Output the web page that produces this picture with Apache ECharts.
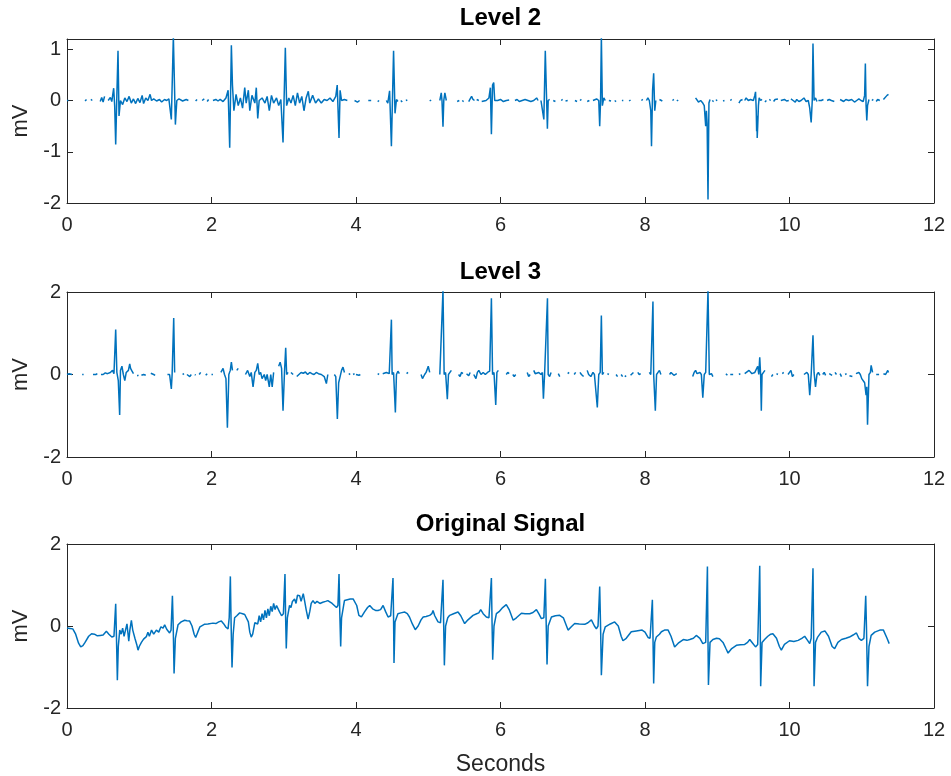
<!DOCTYPE html>
<html><head><meta charset="utf-8">
<script src="https://cdn.jsdelivr.net/npm/echarts@6/dist/echarts.min.js"></script>
<style>html,body{margin:0;padding:0;background:#fff}#c{width:951px;height:776px}</style>
</head><body><div id="c"></div>
<script>
// Level 2 detail coefficients reconstruction: [seconds, mV], null = gap
const level2 = [
[0.00,0.0],[0.02,0.0],[0.04,null],
[0.25,-0.01],[0.27,0.02],[0.29,null],[0.33,0.02],[0.35,0.0],[0.37,null],
[0.46,-0.02],[0.48,0.06],[0.50,-0.03],[0.52,0.08],[0.54,null],
[0.57,0.0],[0.60,0.06],[0.62,-0.02],[0.646,0.24],[0.66,-0.1],[0.674,-0.86],[0.69,0.1],[0.706,0.97],[0.72,-0.3],[0.74,0.0],[0.77,-0.08],[0.80,0.05],[0.83,-0.02],[0.86,0.08],[0.89,-0.05],[0.92,0.03],[0.95,-0.06],[0.98,0.04],[1.01,-0.04],[1.04,0.1],[1.06,-0.06],[1.09,0.05],[1.12,0.0],[1.15,0.12],[1.17,0.0],[1.2,0.03],[1.24,-0.01],[1.28,0.02],[1.31,-0.03],[1.35,0.02],[1.38,0.0],[1.41,0.03],[1.444,-0.37],[1.472,1.25],[1.5,-0.47],[1.52,0.0],[1.55,0.03],[1.6,-0.01],[1.65,0.02],[1.68,0.0],[1.7,null],
[1.78,-0.01],[1.8,0.02],[1.82,null],[1.87,0.0],[1.9,0.03],[1.92,null],[1.94,-0.02],[1.96,0.02],[1.98,null],
[2.02,0.0],[2.06,0.02],[2.09,-0.01],[2.12,0.02],[2.16,-0.02],[2.2,0.05],[2.23,0.2],[2.252,-0.92],[2.275,1.08],[2.29,0.3],[2.31,-0.2],[2.34,0.12],[2.37,-0.1],[2.4,0.05],[2.43,-0.15],[2.46,0.25],[2.48,-0.05],[2.51,0.2],[2.53,-0.2],[2.56,0.1],[2.6,-0.05],[2.62,0.25],[2.64,-0.35],[2.66,0.0],[2.7,0.05],[2.74,-0.05],[2.77,0.08],[2.8,-0.2],[2.83,0.1],[2.86,-0.05],[2.9,0.05],[2.93,-0.1],[2.96,0.02],[2.99,-0.82],[3.022,1.03],[3.04,-0.1],[3.07,0.05],[3.1,-0.05],[3.13,0.1],[3.16,-0.1],[3.19,0.15],[3.22,-0.05],[3.25,0.08],[3.28,-0.2],[3.31,0.05],[3.34,0.18],[3.36,-0.05],[3.4,0.1],[3.44,-0.05],[3.48,0.03],[3.52,-0.05],[3.56,0.02],[3.6,0.0],[3.64,0.05],[3.68,-0.02],[3.72,0.08],[3.74,0.3],[3.765,-0.73],[3.78,0.2],[3.8,0.0],[3.84,0.02],[3.88,0.0],[3.9,null],
[3.98,0.0],[4.0,0.02],[4.02,-0.03],[4.05,0.0],[4.07,null],[4.17,0.0],[4.19,-0.03],[4.21,0.0],[4.23,null],[4.3,-0.02],[4.32,0.0],[4.34,null],
[4.42,0.0],[4.44,-0.05],[4.465,0.19],[4.49,-0.89],[4.52,0.97],[4.54,-0.25],[4.56,0.02],[4.58,-0.02],[4.6,null],[4.62,0.0],[4.64,-0.03],[4.66,null],[4.69,0.0],[4.71,0.01],[4.73,null],
[5.02,-0.01],[5.04,0.01],[5.06,null],[5.16,0.0],[5.18,0.15],[5.19,0.0],[5.204,-0.51],[5.215,0.0],[5.23,0.15],[5.25,0.0],[5.27,null],
[5.4,-0.02],[5.43,0.0],[5.45,null],[5.47,0.0],[5.49,-0.02],[5.51,null],[5.56,-0.02],[5.58,0.03],[5.6,0.08],[5.62,0.02],[5.64,0.0],[5.65,null],[5.67,0.02],[5.7,0.0],[5.72,null],[5.74,-0.02],[5.76,0.0],[5.8,0.0],[5.84,0.05],[5.86,0.25],[5.874,-0.66],[5.89,0.3],[5.906,0.35],[5.92,0.0],[5.94,0.02],[5.96,0.0],[6.0,0.02],[6.04,-0.02],[6.08,0.0],[6.12,0.01],[6.14,null],
[6.2,0.0],[6.23,0.02],[6.26,-0.02],[6.3,0.0],[6.34,0.02],[6.38,0.0],[6.42,-0.02],[6.46,0.0],[6.5,0.05],[6.52,0.0],[6.54,null],
[6.56,0.0],[6.58,0.02],[6.6,-0.37],[6.62,0.97],[6.649,-0.55],[6.66,0.0],[6.68,0.02],[6.7,null],
[6.73,0.0],[6.76,-0.02],[6.78,null],[6.84,0.0],[6.86,0.02],[6.88,null],[6.9,-0.01],[6.93,0.0],[6.95,null],[7.03,0.0],[7.06,-0.02],[7.08,null],[7.1,0.0],[7.12,0.02],[7.14,null],[7.2,-0.02],[7.23,0.0],[7.25,null],
[7.28,0.0],[7.3,-0.02],[7.33,0.03],[7.36,0.0],[7.373,-0.5],[7.385,0.0],[7.396,1.25],[7.41,-0.1],[7.43,0.05],[7.45,0.0],[7.47,null],
[7.5,0.0],[7.53,-0.01],[7.55,null],[7.58,0.0],[7.6,-0.02],[7.62,null],[7.68,0.0],[7.7,0.0],[7.72,null],[7.78,-0.01],[7.8,0.01],[7.82,null],[7.95,0.0],[7.97,0.02],[7.99,null],
[8.02,0.0],[8.04,0.05],[8.06,0.0],[8.08,-0.2],[8.09,-0.89],[8.105,0.2],[8.12,0.53],[8.135,-0.2],[8.15,0.0],[8.17,null],
[8.2,0.02],[8.22,0.0],[8.24,-0.01],[8.26,null],[8.38,0.0],[8.4,0.02],[8.42,null],[8.44,-0.01],[8.46,0.01],[8.48,null],
[8.7,0.05],[8.72,0.02],[8.74,-0.03],[8.77,0.0],[8.8,-0.05],[8.82,-0.1],[8.84,-0.5],[8.85,-0.2],[8.86,-0.45],[8.872,-1.93],[8.885,-0.05],[8.9,0.02],[8.91,null],[8.93,0.0],[8.95,-0.02],[8.96,null],[8.98,0.0],[9.0,0.01],[9.02,null],
[9.08,-0.01],[9.1,0.0],[9.12,null],[9.18,0.0],[9.2,0.02],[9.22,null],[9.3,-0.05],[9.32,0.0],[9.35,0.02],[9.36,null],
[9.38,0.0],[9.4,0.05],[9.43,0.0],[9.46,0.02],[9.5,0.0],[9.52,0.1],[9.53,0.17],[9.54,-0.2],[9.545,-0.6],[9.55,-0.3],[9.553,-0.73],[9.56,-0.5],[9.57,-0.1],[9.58,0.05],[9.6,0.0],[9.62,0.02],[9.64,null],
[9.66,-0.03],[9.68,0.0],[9.7,null],[9.72,0.02],[9.74,0.0],[9.76,null],[9.78,-0.02],[9.8,0.02],[9.82,0.0],[9.84,0.03],[9.86,null],[9.88,0.0],[9.9,-0.03],[9.93,0.02],[9.96,-0.01],[9.99,0.0],[10.0,null],
[10.02,0.03],[10.05,0.0],[10.08,-0.03],[10.1,0.02],[10.13,-0.02],[10.16,0.0],[10.2,0.05],[10.23,-0.02],[10.26,0.0],[10.28,-0.15],[10.3,-0.43],[10.315,0.0],[10.325,1.11],[10.34,0.0],[10.36,0.05],[10.38,-0.02],[10.39,null],
[10.4,0.0],[10.42,0.03],[10.44,0.0],[10.47,0.02],[10.49,null],[10.52,0.0],[10.55,0.02],[10.58,0.0],[10.62,-0.02],[10.65,null],
[10.7,0.02],[10.72,0.0],[10.75,-0.02],[10.78,0.02],[10.82,0.0],[10.86,0.02],[10.9,-0.03],[10.93,0.0],[10.96,0.03],[10.99,0.0],[11.02,-0.02],[11.04,0.1],[11.05,0.72],[11.06,-0.1],[11.07,-0.39],[11.08,-0.1],[11.1,0.02],[11.12,null],
[11.14,0.0],[11.16,0.02],[11.18,null],[11.2,-0.02],[11.22,0.02],[11.25,0.0],[11.27,null],[11.3,0.02],[11.32,0.05],[11.35,0.1],[11.37,0.12]
];

const level3 = [
[0.0,0.0],[0.03,0.02],[0.05,-0.02],[0.07,0.0],[0.09,null],
[0.21,0.0],[0.23,0.0],[0.25,null],
[0.36,0.0],[0.38,-0.03],[0.4,0.0],[0.42,0.02],[0.44,null],
[0.47,0.0],[0.5,0.0],[0.53,0.04],[0.56,0.02],[0.6,0.05],[0.63,0.1],[0.65,0.02],[0.674,1.09],[0.69,0.05],[0.71,-0.15],[0.729,-0.98],[0.74,0.1],[0.76,0.2],[0.78,0.0],[0.8,-0.15],[0.82,0.05],[0.85,0.1],[0.868,0.26],[0.88,0.15],[0.9,0.08],[0.92,0.02],[0.94,null],
[0.97,-0.03],[0.99,-0.02],[1.01,null],[1.03,-0.02],[1.06,0.0],[1.09,-0.02],[1.11,null],[1.16,0.03],[1.18,0.05],[1.2,0.0],[1.22,-0.02],[1.24,null],
[1.39,0.0],[1.42,0.0],[1.444,-0.35],[1.455,0.0],[1.477,1.37],[1.49,0.05],[1.51,null],
[1.6,0.0],[1.62,0.02],[1.64,null],[1.66,0.0],[1.68,0.02],[1.7,-0.05],[1.72,0.0],[1.74,null],[1.77,0.0],[1.78,-0.02],[1.8,null],[1.83,0.0],[1.85,0.05],[1.87,null],
[1.92,-0.02],[1.94,0.02],[1.96,null],[2.0,0.0],[2.02,0.0],[2.04,null],
[2.13,0.05],[2.16,0.15],[2.18,0.0],[2.2,-0.1],[2.22,-1.29],[2.24,0.0],[2.26,0.1],[2.275,0.3],[2.29,0.1],[2.31,null],[2.35,0.1],[2.37,0.15],[2.39,null],
[2.47,0.0],[2.5,0.1],[2.53,-0.05],[2.55,0.05],[2.575,-0.3],[2.6,0.05],[2.62,0.1],[2.64,0.27],[2.66,0.0],[2.68,0.05],[2.7,-0.1],[2.73,0.0],[2.75,-0.15],[2.77,0.0],[2.8,-0.3],[2.82,0.0],[2.84,-0.3],[2.86,0.05],[2.88,null],
[2.93,0.2],[2.95,0.3],[2.97,0.15],[2.99,-0.88],[3.01,0.05],[3.027,0.65],[3.04,0.0],[3.06,0.05],[3.08,null],[3.1,0.05],[3.13,0.0],[3.15,null],
[3.18,-0.05],[3.21,0.0],[3.24,0.05],[3.27,0.03],[3.3,0.06],[3.33,0.0],[3.36,0.05],[3.39,0.02],[3.42,0.0],[3.45,0.05],[3.48,0.02],[3.52,0.0],[3.56,-0.05],[3.59,-0.22],[3.61,0.0],[3.63,null],
[3.7,0.0],[3.72,-0.05],[3.742,-1.08],[3.76,-0.2],[3.78,-0.05],[3.8,0.1],[3.82,0.18],[3.84,0.05],[3.86,null],[3.9,0.0],[3.92,0.02],[3.94,null],[3.96,0.0],[3.98,0.02],[3.99,null],
[4.0,0.0],[4.02,0.02],[4.04,-0.02],[4.06,0.0],[4.08,null],
[4.3,0.02],[4.32,0.0],[4.34,null],[4.37,0.02],[4.39,0.0],[4.42,0.05],[4.44,0.02],[4.46,0.02],[4.49,1.33],[4.5,0.0],[4.52,0.05],[4.545,-0.92],[4.56,0.0],[4.58,0.08],[4.6,0.02],[4.62,null],
[4.7,0.02],[4.72,0.05],[4.74,null],
[4.9,0.0],[4.92,-0.1],[4.95,0.0],[4.97,0.05],[5.0,0.2],[5.02,0.05],[5.04,null],
[5.16,0.0],[5.18,0.0],[5.204,2.05],[5.22,0.0],[5.24,0.05],[5.264,-0.6],[5.28,0.0],[5.3,0.05],[5.32,0.1],[5.34,null],
[5.42,0.0],[5.44,-0.05],[5.46,0.05],[5.48,0.02],[5.5,null],[5.53,0.02],[5.56,-0.03],[5.58,0.05],[5.6,null],
[5.63,0.0],[5.66,-0.1],[5.68,0.05],[5.7,0.1],[5.73,0.0],[5.76,0.05],[5.79,0.0],[5.82,0.05],[5.85,0.08],[5.874,1.85],[5.89,0.0],[5.91,0.05],[5.934,-0.74],[5.95,0.05],[5.97,0.1],[5.99,null],
[6.08,0.0],[6.1,0.05],[6.12,0.02],[6.14,null],[6.17,0.0],[6.19,-0.05],[6.21,0.0],[6.23,null],
[6.37,0.05],[6.39,-0.05],[6.41,0.0],[6.43,null],[6.46,0.1],[6.48,0.02],[6.5,0.0],[6.53,0.05],[6.56,0.0],[6.58,0.05],[6.594,-0.59],[6.61,0.0],[6.65,1.85],[6.66,0.0],[6.68,-0.05],[6.7,0.05],[6.72,null],
[6.8,0.02],[6.82,-0.05],[6.84,null],
[6.93,0.02],[6.95,0.05],[6.97,null],[7.02,0.0],[7.04,0.05],[7.06,null],[7.1,0.05],[7.12,0.0],[7.15,-0.05],[7.17,null],[7.2,0.1],[7.22,0.0],[7.25,-0.05],[7.28,0.05],[7.3,0.0],[7.34,-0.8],[7.36,0.0],[7.38,0.05],[7.396,1.43],[7.41,0.0],[7.43,0.05],[7.45,null],[7.48,0.02],[7.5,0.0],[7.52,null],
[7.6,0.0],[7.62,-0.05],[7.64,null],[7.67,0.0],[7.69,-0.05],[7.71,null],[7.72,-0.03],[7.74,-0.05],[7.76,null],[7.8,-0.02],[7.82,0.0],[7.84,0.05],[7.86,null],[7.9,0.05],[7.92,0.0],[7.94,0.02],[7.96,null],
[8.06,0.05],[8.08,0.0],[8.11,1.77],[8.12,0.0],[8.143,-0.88],[8.16,0.0],[8.18,0.05],[8.2,0.1],[8.22,0.0],[8.24,null],
[8.34,0.0],[8.36,0.05],[8.38,0.02],[8.4,-0.02],[8.42,0.0],[8.44,0.02],[8.46,null],
[8.66,-0.05],[8.68,0.05],[8.7,0.1],[8.72,0.02],[8.74,0.0],[8.76,0.05],[8.78,0.0],[8.8,-0.56],[8.82,0.0],[8.84,0.05],[8.872,2.05],[8.89,0.0],[8.9,-0.02],[8.92,0.02],[8.94,-0.05],[8.96,null],
[9.12,0.02],[9.14,-0.02],[9.16,null],[9.18,0.0],[9.2,0.02],[9.22,0.0],[9.24,null],
[9.3,0.0],[9.32,0.02],[9.34,null],[9.38,0.02],[9.4,0.05],[9.44,0.1],[9.48,0.02],[9.52,0.05],[9.56,0.2],[9.575,0.0],[9.588,0.42],[9.6,0.0],[9.61,-0.88],[9.62,0.0],[9.64,0.05],[9.66,0.1],[9.68,null],
[9.75,-0.05],[9.77,0.0],[9.79,null],[9.82,0.02],[9.84,0.0],[9.86,null],[9.9,0.02],[9.92,0.05],[9.94,null],[9.98,0.0],[10.0,0.05],[10.02,0.1],[10.04,-0.05],[10.06,0.0],[10.08,null],
[10.2,0.0],[10.24,0.05],[10.26,0.0],[10.28,-0.5],[10.3,0.0],[10.325,0.95],[10.34,0.05],[10.36,-0.3],[10.38,0.0],[10.4,0.05],[10.42,-0.02],[10.44,null],
[10.46,0.0],[10.48,0.05],[10.5,-0.02],[10.52,null],[10.55,0.02],[10.57,0.0],[10.59,-0.02],[10.61,null],[10.63,0.05],[10.65,0.0],[10.67,null],[10.7,0.02],[10.72,-0.05],[10.74,null],[10.77,0.0],[10.79,0.02],[10.81,null],[10.83,-0.03],[10.85,0.0],[10.87,-0.05],[10.89,null],
[10.92,0.02],[10.94,0.0],[10.96,0.05],[10.98,0.0],[11.0,-0.1],[11.04,-0.2],[11.06,-0.5],[11.07,-0.3],[11.08,-1.22],[11.1,0.0],[11.12,0.05],[11.13,0.22],[11.15,0.05],[11.17,null],
[11.2,0.0],[11.22,-0.02],[11.24,0.0],[11.26,null],[11.3,0.02],[11.33,0.0],[11.36,0.1],[11.37,0.05]
];

const original = [
[0.0,-0.05],[0.04,-0.06],[0.08,-0.07],[0.12,-0.2],[0.16,-0.42],[0.19,-0.51],[0.22,-0.48],[0.25,-0.4],[0.3,-0.25],[0.34,-0.19],[0.38,-0.2],[0.42,-0.24],[0.46,-0.23],[0.5,-0.22],[0.545,-0.13],[0.58,-0.2],[0.62,-0.27],[0.65,-0.25],[0.674,0.54],[0.685,-0.3],[0.697,-1.32],[0.71,-0.5],[0.73,-0.1],[0.75,-0.2],[0.77,-0.05],[0.79,-0.25],[0.81,-0.1],[0.83,0.05],[0.845,-0.2],[0.855,-0.37],[0.87,-0.1],[0.891,0.14],[0.91,-0.1],[0.94,-0.3],[0.965,-0.45],[0.983,-0.59],[1.0,-0.5],[1.03,-0.4],[1.06,-0.32],[1.098,-0.26],[1.12,-0.15],[1.14,-0.25],[1.17,-0.1],[1.2,-0.2],[1.237,-0.1],[1.27,-0.15],[1.3,-0.02],[1.33,-0.05],[1.352,0.03],[1.38,-0.08],[1.42,-0.17],[1.44,-0.1],[1.459,0.74],[1.47,0.0],[1.482,-1.16],[1.5,-0.3],[1.537,0.03],[1.58,0.1],[1.629,0.14],[1.66,0.13],[1.698,0.12],[1.73,0.0],[1.76,-0.2],[1.781,-0.28],[1.81,-0.15],[1.84,-0.02],[1.86,0.02],[1.9,0.04],[1.95,0.05],[2.02,0.07],[2.06,0.06],[2.1,0.1],[2.136,0.12],[2.17,0.05],[2.2,-0.03],[2.229,-0.07],[2.245,0.2],[2.261,1.21],[2.272,0.0],[2.284,-1.01],[2.3,-0.2],[2.32,0.2],[2.35,0.25],[2.39,0.32],[2.43,0.3],[2.46,0.28],[2.48,0.24],[2.51,0.1],[2.53,-0.15],[2.55,-0.27],[2.57,-0.2],[2.6,0.08],[2.62,0.12],[2.64,0.05],[2.66,0.25],[2.68,0.1],[2.7,0.3],[2.72,0.15],[2.74,0.38],[2.76,0.2],[2.78,0.42],[2.8,0.25],[2.82,0.48],[2.84,0.35],[2.86,0.55],[2.88,0.4],[2.9,0.5],[2.92,0.54],[2.94,0.35],[2.97,0.25],[2.995,0.3],[3.017,1.27],[3.026,0.2],[3.035,-0.55],[3.05,0.2],[3.08,0.5],[3.1,0.45],[3.12,0.6],[3.15,0.66],[3.17,0.55],[3.19,0.75],[3.22,0.74],[3.24,0.6],[3.27,0.79],[3.29,0.6],[3.31,0.4],[3.337,0.17],[3.36,0.35],[3.38,0.55],[3.405,0.62],[3.43,0.55],[3.46,0.6],[3.5,0.55],[3.54,0.58],[3.58,0.6],[3.61,0.62],[3.636,0.66],[3.67,0.55],[3.7,0.5],[3.73,0.45],[3.75,0.5],[3.765,1.27],[3.776,0.3],[3.788,-0.5],[3.8,0.2],[3.84,0.62],[3.88,0.64],[3.92,0.66],[3.96,0.66],[3.98,0.66],[4.01,0.5],[4.04,0.26],[4.075,0.22],[4.12,0.35],[4.16,0.45],[4.19,0.5],[4.23,0.42],[4.27,0.38],[4.305,0.38],[4.34,0.4],[4.375,0.5],[4.41,0.35],[4.444,0.22],[4.48,0.25],[4.512,1.17],[4.52,0.2],[4.526,-0.9],[4.54,0.1],[4.58,0.3],[4.62,0.32],[4.675,0.34],[4.71,0.3],[4.74,0.22],[4.78,0.05],[4.82,-0.09],[4.86,0.0],[4.9,0.15],[4.93,0.22],[4.97,0.23],[5.02,0.26],[5.05,0.3],[5.066,0.38],[5.09,0.25],[5.135,0.1],[5.17,0.08],[5.204,1.13],[5.213,0.1],[5.223,-0.96],[5.24,0.0],[5.27,0.2],[5.297,0.26],[5.35,0.3],[5.412,0.34],[5.45,0.25],[5.504,0.06],[5.55,0.15],[5.62,0.26],[5.67,0.3],[5.7,0.32],[5.726,0.4],[5.76,0.3],[5.804,0.22],[5.84,0.2],[5.874,1.17],[5.883,0.1],[5.892,-0.82],[5.91,0.0],[5.943,0.3],[5.98,0.35],[6.03,0.45],[6.08,0.52],[6.12,0.4],[6.175,0.14],[6.22,0.2],[6.29,0.31],[6.34,0.3],[6.405,0.3],[6.45,0.33],[6.497,0.4],[6.53,0.3],[6.566,0.18],[6.6,0.2],[6.621,1.15],[6.632,0.1],[6.644,-0.94],[6.66,0.0],[6.705,0.22],[6.76,0.25],[6.82,0.26],[6.87,0.2],[6.935,-0.1],[6.98,-0.02],[7.027,0.06],[7.09,0.05],[7.166,0.04],[7.21,0.08],[7.258,0.15],[7.3,0.0],[7.327,-0.07],[7.35,0.0],[7.373,0.96],[7.385,0.0],[7.396,-1.2],[7.42,-0.2],[7.45,-0.02],[7.52,0.05],[7.58,0.1],[7.63,0.0],[7.67,-0.25],[7.695,-0.36],[7.74,-0.3],[7.81,-0.14],[7.88,-0.12],[7.96,-0.1],[8.0,-0.15],[8.042,-0.28],[8.07,-0.3],[8.102,0.64],[8.11,-0.2],[8.12,-1.4],[8.135,-0.4],[8.157,-0.27],[8.2,-0.2],[8.227,-0.14],[8.27,-0.1],[8.32,-0.1],[8.36,-0.25],[8.41,-0.51],[8.46,-0.42],[8.53,-0.33],[8.58,-0.35],[8.62,-0.33],[8.67,-0.3],[8.71,-0.23],[8.76,-0.3],[8.8,-0.43],[8.84,-0.4],[8.864,1.45],[8.87,0.0],[8.878,-1.44],[8.9,-0.4],[8.94,-0.33],[8.99,-0.3],[9.03,-0.31],[9.08,-0.4],[9.12,-0.55],[9.15,-0.66],[9.2,-0.55],[9.265,-0.47],[9.32,-0.46],[9.38,-0.45],[9.42,-0.4],[9.45,-0.33],[9.49,-0.42],[9.53,-0.51],[9.56,-0.45],[9.588,1.47],[9.595,0.0],[9.601,-1.47],[9.62,-0.4],[9.655,-0.33],[9.7,-0.25],[9.74,-0.2],[9.77,-0.19],[9.82,-0.3],[9.86,-0.5],[9.887,-0.59],[9.93,-0.45],[10.0,-0.36],[10.06,-0.38],[10.12,-0.35],[10.17,-0.3],[10.21,-0.25],[10.25,-0.35],[10.28,-0.43],[10.3,-0.3],[10.325,1.41],[10.333,0.0],[10.34,-1.47],[10.36,-0.4],[10.39,-0.27],[10.44,-0.15],[10.49,-0.12],[10.54,-0.25],[10.59,-0.5],[10.625,-0.55],[10.67,-0.4],[10.72,-0.33],[10.78,-0.3],[10.83,-0.27],[10.88,-0.22],[10.926,-0.17],[10.96,-0.3],[10.995,-0.35],[11.03,-0.3],[11.055,0.74],[11.065,0.0],[11.08,-1.47],[11.1,-0.5],[11.13,-0.23],[11.18,-0.15],[11.25,-0.1],[11.3,-0.1],[11.32,-0.12],[11.35,-0.3],[11.38,-0.43]
];

const titles = ['Level 2', 'Level 3', 'Original Signal'];
const xTicks = [0, 2, 4, 6, 8, 10, 12];
const yRanges = [[-2, 1.2], [-2, 2], [-2, 2]];
const xLabel = 'Seconds';
const yLabel = 'mV';

const FONT = '"Liberation Sans", Arial, Helvetica, sans-serif';
const AX = '#262626';
const LINE = '#0072BD';
const grids = [
  {left: 67, right: 17, top: 39, height: 164},
  {left: 67, right: 17, top: 292, height: 165},
  {left: 67, right: 17, top: 544, height: 164}
];
const titleY = [18, 272, 524];
const series = [level2, level3, original];
const toData = arr => arr.map(p => p[1] === null ? [p[0], '-'] : p);

const xAxes = [], yAxes = [], ser = [], graphics = [];
grids.forEach((g, i) => {
  const common = {
    gridIndex: i, type: 'value', min: xTicks[0], max: xTicks[xTicks.length - 1], interval: 2,
    axisLine: {show: true, onZero: false, lineStyle: {color: AX, width: 1}},
    axisTick: {show: true, inside: true, length: 6, lineStyle: {color: AX}},
    splitLine: {show: false}
  };
  xAxes.push(Object.assign({}, common, {position: 'bottom',
    axisLabel: {color: AX, fontSize: 20, fontFamily: FONT, margin: 12}}));
  xAxes.push(Object.assign({}, common, {position: 'top', axisLabel: {show: false}}));
  const yc = {
    gridIndex: i, type: 'value', min: yRanges[i][0], max: yRanges[i][1], interval: i > 0 ? 2 : 1,
    axisLine: {show: true, onZero: false, lineStyle: {color: AX, width: 1}},
    axisTick: {show: true, inside: true, length: 6, lineStyle: {color: AX}},
    splitLine: {show: false}
  };
  yAxes.push(Object.assign({}, yc, {position: 'left',
    axisLabel: {color: AX, fontSize: 20, fontFamily: FONT, margin: 6, showMaxLabel: i > 0,
      formatter: v => (Math.abs(v - Math.round(v)) < 1e-9 ? String(Math.round(v)) : '')},
    name: yLabel, nameLocation: 'middle', nameGap: 29, nameRotate: 90,
    nameTextStyle: {color: AX, fontSize: 22, fontFamily: FONT}}));
  yAxes.push(Object.assign({}, yc, {position: 'right', axisLabel: {show: false}}));
  ser.push({type: 'line', xAxisIndex: 2 * i, yAxisIndex: 2 * i, data: toData(series[i]),
    showSymbol: false, symbol: 'none', connectNulls: false, clip: true, animation: false,
    lineStyle: {color: LINE, width: 1.5}});
  graphics.push({type: 'text', x: 500.5, y: titleY[i], style: {text: titles[i], fill: '#000',
    font: 'bold 24px ' + FONT, textAlign: 'center', textVerticalAlign: 'middle'}});
});
graphics.push({type: 'text', x: 500.5, y: 765, style: {text: xLabel, fill: AX,
  font: '23px ' + FONT, textAlign: 'center', textVerticalAlign: 'middle'}});

const chart = echarts.init(document.getElementById('c'), null, {renderer: 'canvas'});
chart.setOption({
  animation: false,
  backgroundColor: '#fff',
  grid: grids,
  xAxis: xAxes,
  yAxis: yAxes,
  series: ser,
  graphic: graphics
});
</script></body></html>
